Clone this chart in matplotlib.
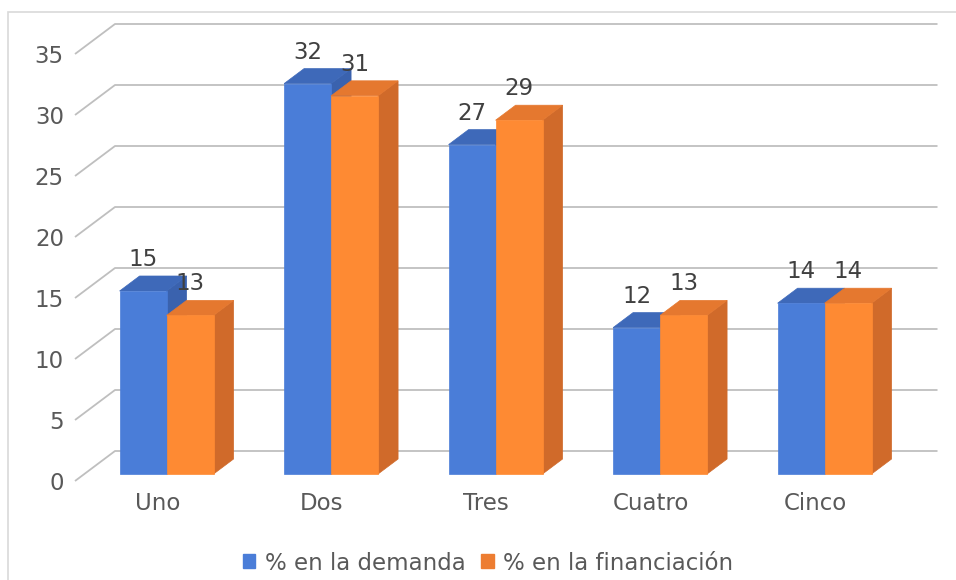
import matplotlib.pyplot as plt
from matplotlib.patches import Polygon, Patch, Rectangle

plt.rcParams['font.family'] = ['DejaVu Sans']

# datos del gráfico
categorias = ['Uno', 'Dos', 'Tres', 'Cuatro', 'Cinco']
demanda = [15, 32, 27, 12, 14]
financiacion = [13, 31, 29, 13, 14]
series_nombres = ['% en la demanda', '% en la financiación']
y_ticks = [0, 5, 10, 15, 20, 25, 30, 35]

# colores (frente, arriba, lado)
azul = ('#4a7dd8', '#3e69b9', '#3a62ae')
naranja = ('#fe8a33', '#e5782f', '#d06a2a')
gris_texto = '#595959'
fs = 16.5

W, H, DPI = 956, 580, 100
fig = plt.figure(figsize=(W / DPI, H / DPI), dpi=DPI)

# borde del gráfico
fig.patches.append(Rectangle((7.5 / W, -0.1), 1.2, 1 - 12 / H + 0.1, transform=fig.transFigure,
                             fill=False, edgecolor='#d9d9d9', linewidth=1.2))

# ejes: plano frontal del suelo
ax_l, ax_r, ax_b, ax_t = 75, 897.5, 481, 54
ax = fig.add_axes([ax_l / W, (H - ax_b) / H, (ax_r - ax_l) / W, (ax_b - ax_t) / H])
ax.set_xlim(-0.5, 4.5)
ax.set_ylim(0, 35)
for s in ax.spines.values():
    s.set_visible(False)
ax.patch.set_visible(False)

# profundidad en unidades de datos (40 px a la derecha, 30 px hacia arriba)
px_x = (ax_r - ax_l) / 5
px_y = (ax_b - ax_t) / 35
DX = 40 / px_x
DY = 30 / px_y


def pt(x, v, d):
    return (x + d * DX, v + d * DY)


# rejilla en perspectiva
for v in y_ticks:
    xs, ys = zip(pt(-0.5, v, 0), pt(-0.5, v, 1), pt(4.5, v, 1))
    ax.plot(xs, ys, color='#bfbfbf', lw=1.3, clip_on=False, zorder=1, solid_capstyle='butt')

d0 = 7 / 30       # posición frontal de las barras
dep = 0.5         # profundidad de las barras
w = 47 / px_x     # ancho de cada barra


def barra(x0, v, cols):
    x1 = x0 + w
    frente = [pt(x0, 0, d0), pt(x1, 0, d0), pt(x1, v, d0), pt(x0, v, d0)]
    arriba = [pt(x0, v, d0), pt(x1, v, d0), pt(x1, v, d0 + dep), pt(x0, v, d0 + dep)]
    lado = [pt(x1, 0, d0), pt(x1, 0, d0 + dep), pt(x1, v, d0 + dep), pt(x1, v, d0)]
    for poly, c in ((lado, cols[2]), (arriba, cols[1]), (frente, cols[0])):
        ax.add_patch(Polygon(poly, closed=True, facecolor=c, edgecolor=c, lw=0.5,
                             clip_on=False, zorder=2))
    xc, yc = pt(x0 + w / 2, v, d0)
    ax.text(xc, yc + 25 / px_y, str(v), ha='center', va='baseline', fontsize=fs,
            color='#404040', clip_on=False, zorder=3)


for i in range(len(categorias)):
    barra(i - w, demanda[i], azul)
    barra(i, financiacion[i], naranja)

ax.set_yticks(y_ticks)
ax.set_yticklabels([str(t) for t in y_ticks], fontsize=fs, color=gris_texto)
ax.set_xticks(range(len(categorias)))
ax.set_xticklabels(categorias, fontsize=fs, color=gris_texto)
ax.tick_params(axis='y', length=0, pad=8)
ax.tick_params(axis='x', length=0, pad=8)

handles = [Patch(facecolor=azul[0], edgecolor=azul[0]),
           Patch(facecolor='#ed7d31', edgecolor='#ed7d31')]
fig.legend(handles, series_nombres, loc='center', bbox_to_anchor=(488 / W, 1 - 563 / H),
           ncol=2, frameon=False, fontsize=fs, handlelength=0.55, handleheight=0.55,
           handletextpad=0.4, columnspacing=0.7, labelcolor=gris_texto)

fig.savefig('out.png', dpi=DPI)
